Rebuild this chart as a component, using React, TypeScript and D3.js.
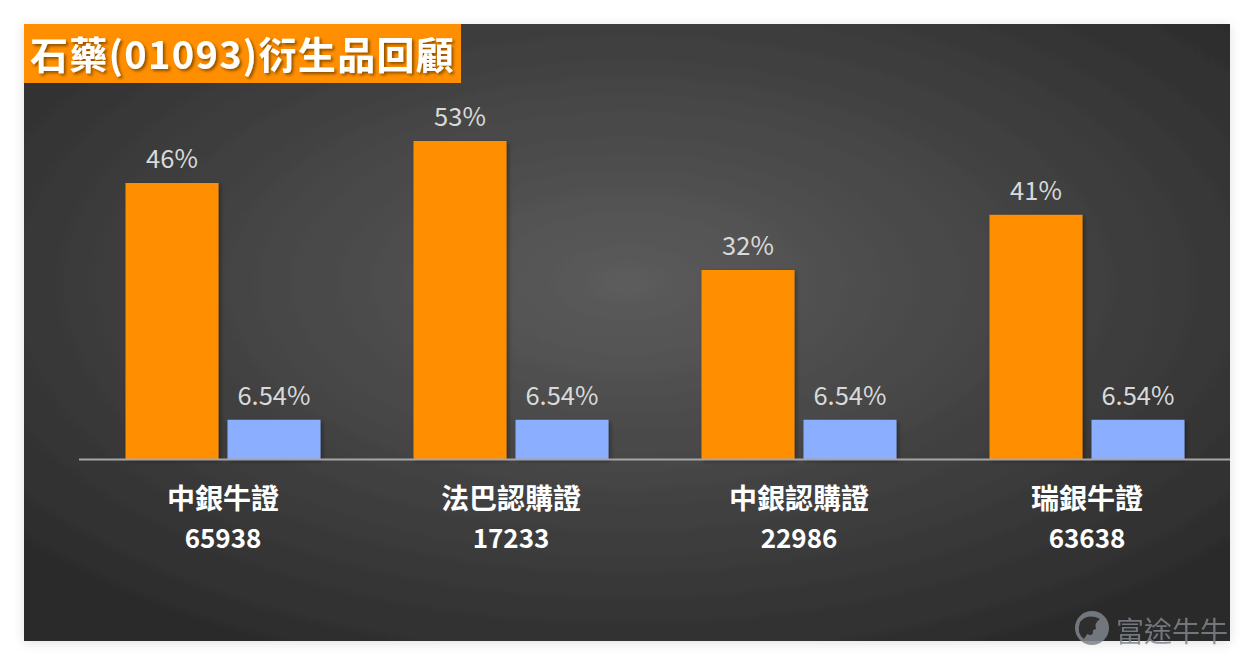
import React from 'react';
import * as d3 from 'd3';

const categories = ['中銀牛證', '法巴認購證', '中銀認購證', '瑞銀牛證'];
const codes = ['65938', '17233', '22986', '63638'];
const orangeValues = [46, 53, 31.5, 40.7];
const blueValues = [6.54, 6.54, 6.54, 6.54];
const orangeLabels = ['46%', '53%', '32%', '41%'];
const blueLabels = ['6.54%', '6.54%', '6.54%', '6.54%'];

const W = 1254;
const H = 666;
const CJK = '"Noto Sans CJK TC", "Noto Sans", sans-serif';

const App: React.FC = () => {
  const panel = { x: 24, y: 24, w: 1206, h: 617 };
  const baseY = 459;

  const x = d3.scaleBand<string>().domain(categories).range([79, 1231]);
  const y = d3.scaleLinear().domain([0, 10]).range([baseY, baseY - 60]);
  const barW = 93;
  const gap = 9;
  const inner = (x.bandwidth() - (barW * 2 + gap)) / 2;

  return (
    <svg width={W} height={H} style={{ position: 'absolute', left: 0, top: 0 }}>
      <defs>
        <radialGradient id="bg" cx="0.5" cy="0.42" r="0.68">
          <stop offset="0" stopColor="#5c5c5c" />
          <stop offset="1" stopColor="#2a2a2a" />
        </radialGradient>
        <filter id="sh" x="-20%" y="-20%" width="140%" height="140%">
          <feDropShadow dx="2" dy="2" stdDeviation="2" floodColor="#000" floodOpacity="0.35" />
        </filter>
        <filter id="tsh" x="-10%" y="-10%" width="120%" height="130%">
          <feDropShadow dx="2" dy="2" stdDeviation="1.5" floodColor="#000" floodOpacity="0.45" />
        </filter>
        <filter id="psh" x="-5%" y="-5%" width="110%" height="110%">
          <feDropShadow dx="0" dy="2" stdDeviation="6" floodColor="#000" floodOpacity="0.12" />
        </filter>
      </defs>
      <rect width={W} height={H} fill="#ffffff" />
      <rect x={panel.x} y={panel.y} width={panel.w} height={panel.h} fill="url(#bg)" filter="url(#psh)" />

      {categories.map((c, i) => {
        const x0 = (x(c) ?? 0) + inner;
        const cx = (x(c) ?? 0) + x.bandwidth() / 2;
        return (
          <g key={c}>
            <rect x={x0} y={y(orangeValues[i])} width={barW} height={baseY - y(orangeValues[i])}
              fill="#ff8f00" filter="url(#sh)" />
            <rect x={x0 + barW + gap} y={y(blueValues[i])} width={barW} height={baseY - y(blueValues[i])}
              fill="#8caeff" filter="url(#sh)" />
            <text x={x0 + barW / 2} y={y(orangeValues[i]) - 15} textAnchor="middle"
              fill="#d9d9d9" fontSize={25.5} fontFamily={CJK}>{orangeLabels[i]}</text>
            <text x={x0 + barW + gap + barW / 2} y={y(blueValues[i]) - 15} textAnchor="middle"
              fill="#d9d9d9" fontSize={25.5} fontFamily={CJK}>{blueLabels[i]}</text>
            <text x={cx} y={509} textAnchor="middle"
              fill="#ffffff" fontSize={28} fontWeight="bold" fontFamily={CJK}>{c}</text>
            <text x={cx} y={548} textAnchor="middle"
              fill="#ffffff" fontSize={26} fontWeight="bold" fontFamily={CJK}>{codes[i]}</text>
          </g>
        );
      })}

      <line x1={79} x2={1230} y1={baseY + 0.5} y2={baseY + 0.5} stroke="#a6a6a6" strokeWidth={2} />

      <rect x={24} y={24} width={437} height={59} fill="#ff8f00" />
      <text x={30} y={69} fill="#ffffff" fontSize={38} fontWeight="bold" fontFamily={CJK}
        filter="url(#tsh)" letterSpacing={1.3}>石藥(01093)衍生品回顧</text>

      <g opacity={0.85}>
        <circle cx={1092} cy={628} r={17} fill="#7f858c" />
        <path d="M1080,622 q8,-9 20,-3 q-6,4 -4,10 q-8,2 -12,10 q-8,-6 -4,-17z" fill="#2f2f2f" />
        <circle cx={1090} cy={632} r={3} fill="#2f2f2f" />
        <text x={1116} y={642} fill="#7f858c" fontSize={28} fontFamily={CJK}>富途牛牛</text>
      </g>
    </svg>
  );
};

export default App;
